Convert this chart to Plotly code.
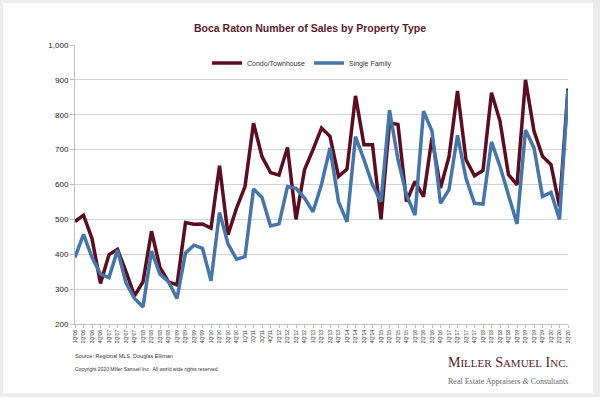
import plotly.graph_objects as go

quarters = [f"{q}Q'{y:02d}" for y in range(6, 21) for q in range(1, 5)][:59]

condo = [494, 512, 445, 316, 399, 414, 350, 281, 321, 466, 362, 321, 312, 491, 486,
         487, 475, 654, 456, 532, 594, 776, 680, 634, 627, 706, 500, 642, 700, 762,
         738, 623, 644, 854, 714, 714, 500, 777, 772, 551, 609, 565, 735, 590, 680,
         868, 671, 625, 640, 863, 782, 628, 599, 900, 753, 681, 657, 537, 875]

single_family = [391, 457, 391, 343, 333, 412, 318, 273, 249, 409, 343, 321, 273, 404, 426,
                 417, 324, 520, 430, 386, 393, 587, 563, 481, 487, 594, 589, 561, 522, 600,
                 705, 551, 493, 737, 671, 599, 551, 813, 671, 570, 512, 810, 753, 546, 585,
                 741, 618, 546, 544, 722, 652, 566, 487, 756, 705, 566, 577, 500, 870]

fig = go.Figure()
fig.add_trace(go.Scatter(x=quarters, y=condo, mode="lines", name="Condo/Townhouse",
                         line=dict(color="#5B0E20", width=3.5), legend="legend"))
fig.add_trace(go.Scatter(x=quarters, y=single_family, mode="lines", name="Single Family",
                         line=dict(color="#4676A9", width=3.5), legend="legend2"))

# card background
L, R, T, B = 75, 32, 45, 73
W, H = 600, 397
pw, ph = W - L - R, H - T - B
def px(xp): return (xp - L) / pw
def py(yp): return (H - B - yp) / ph

fig.add_shape(type="rect", xref="paper", yref="paper", x0=px(3), x1=px(593), y0=py(393), y1=py(3),
              fillcolor="white", line=dict(width=0), layer="below")

legend_style = dict(orientation="h", y=py(63), xanchor="left", yanchor="middle",
                    bgcolor="rgba(0,0,0,0)", font=dict(size=7, color="#333333"), itemwidth=30)

fig.update_layout(
    width=W, height=H,
    margin=dict(l=L, r=R, t=T, b=B),
    paper_bgcolor="#ececec",
    plot_bgcolor="white",
    title=dict(text="<b>Boca Raton Number of Sales by Property Type</b>",
               xref="container", yref="container",
               x=310 / W, xanchor="center", y=1 - 28 / H, yanchor="middle",
               font=dict(family="Liberation Sans, Arial", size=10.5, color="#5a1a2a")),
    font=dict(family="Liberation Sans, Arial", color="#222222"),
    showlegend=True,
    legend=dict(x=px(207), **legend_style),
    legend2=dict(x=px(309), **legend_style),
    xaxis=dict(type="category", tickangle=-90, tickfont=dict(size=5, color="#333333"),
               showline=True, linecolor="#bfbfbf", linewidth=1, ticks="outside",
               ticklen=3, tickcolor="#bfbfbf", showgrid=False, zeroline=False),
    yaxis=dict(range=[200, 1000], dtick=100, tickformat=",", tickfont=dict(size=8, color="#222222"),
               showline=True, linecolor="#bfbfbf", linewidth=1, ticks="outside",
               ticklen=4, tickcolor="#bfbfbf", gridcolor="#d4d4d4", gridwidth=1, zeroline=False),
)

fig.add_annotation(xref="paper", yref="paper", x=px(73), y=py(356), xanchor="left", yanchor="middle",
                   text="Source: Regional MLS, Douglas Elliman", showarrow=False,
                   font=dict(size=5.5, color="#333333"))
fig.add_annotation(xref="paper", yref="paper", x=px(73), y=py(369), xanchor="left", yanchor="middle",
                   text="Copyright 2020 Miller Samuel Inc.  All world wide rights reserved.", showarrow=False,
                   font=dict(size=5, color="#333333"))
fig.add_annotation(xref="paper", yref="paper", x=px(570), y=py(363), xanchor="right", yanchor="middle",
                   text="M<span style='font-size:11px'>ILLER</span> S<span style='font-size:11px'>AMUEL</span> I<span style='font-size:11px'>NC.</span>",
                   showarrow=False,
                   font=dict(family="Liberation Serif, Times New Roman", size=14, color="#5a1a2a"))
fig.add_annotation(xref="paper", yref="paper", x=px(570), y=py(381), xanchor="right", yanchor="middle",
                   text="Real Estate Appraisers <i>&</i> Consultants", showarrow=False,
                   font=dict(family="Liberation Serif, Times New Roman", size=8, color="#666666"))

fig.write_html("out.html", config={"displayModeBar": False},
               post_script="document.body.style.margin='0';document.body.style.overflow='hidden';")
